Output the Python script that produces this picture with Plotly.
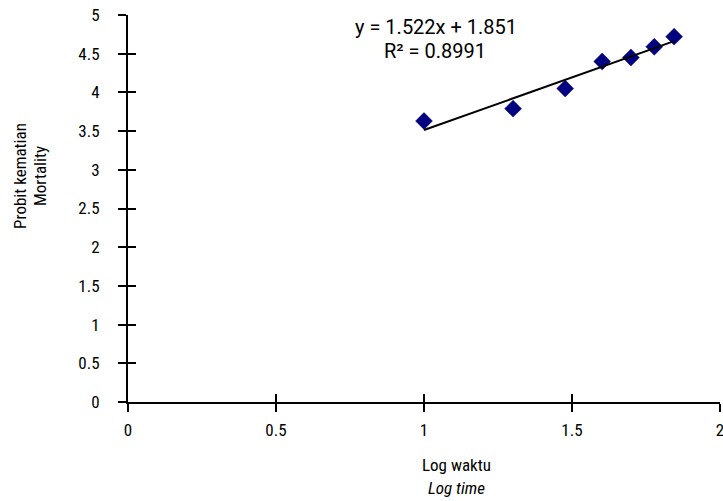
import numpy as np
import plotly.graph_objects as go

# Data
log_time = [1.0, 1.301, 1.477, 1.602, 1.699, 1.778, 1.845]
probit = [3.63, 3.79, 4.05, 4.40, 4.45, 4.59, 4.72]
x_ticks = [0, 0.5, 1, 1.5, 2]
x_tick_labels = ["0", "0.5", "1", "1.5", "2"]
y_ticks = [0, 0.5, 1, 1.5, 2, 2.5, 3, 3.5, 4, 4.5, 5]
y_tick_labels = ["0", "0.5", "1", "1.5", "2", "2.5", "3", "3.5", "4", "4.5", "5"]
equation_text = "y = 1.522x + 1.851"
r2_text = "R² = 0.8991"
x_title = ["Log waktu", "<i>Log time</i>"]
y_title = ["Probit kematian", "Mortality"]

NARROW = "Roboto Condensed, Liberation Sans Narrow, sans-serif"
REG = "Roboto, Liberation Sans, sans-serif"

slope, intercept = np.polyfit(log_time, probit, 1)
fit_x = [min(log_time), max(log_time)]
fit_y = [slope * v + intercept for v in fit_x]

fig = go.Figure()
fig.add_trace(go.Scatter(
    x=log_time, y=probit, mode="markers",
    marker=dict(symbol="diamond", size=13, color="#000080",
                line=dict(color="#000060", width=0.5)),
    showlegend=False, hoverinfo="skip"))
fig.add_trace(go.Scatter(
    x=fit_x, y=fit_y, mode="lines",
    line=dict(color="black", width=2),
    showlegend=False, hoverinfo="skip"))
# invisible trace to activate overlay axes (inner half of crossing ticks)
fig.add_trace(go.Scatter(x=[None], y=[None], xaxis="x2", yaxis="y2",
                         showlegend=False, hoverinfo="skip"))

axis_common = dict(showgrid=False, zeroline=False)
fig.update_layout(
    width=723, height=501,
    margin=dict(l=128, r=3, t=15, b=99),
    paper_bgcolor="white", plot_bgcolor="white",
    xaxis=dict(range=[0, 2], tickvals=x_ticks, ticktext=x_tick_labels,
               showline=True, linecolor="black", linewidth=2,
               ticks="outside", ticklen=8, tickwidth=2, tickcolor="black",
               tickfont=dict(family=NARROW, size=17, color="black"),
               ticklabelstandoff=4, ticklabeloverflow="allow",
               automargin=False, **axis_common),
    yaxis=dict(range=[0, 5], tickvals=y_ticks, ticktext=y_tick_labels,
               showline=True, linecolor="black", linewidth=2,
               ticks="outside", ticklen=8, tickwidth=2, tickcolor="black",
               tickfont=dict(family=NARROW, size=17, color="black"),
               ticklabelstandoff=15, ticklabeloverflow="allow",
               automargin=False, **axis_common),
    xaxis2=dict(range=[0, 2], tickvals=x_ticks, overlaying="x", anchor="y",
                side="bottom", showticklabels=False, showline=False,
                ticks="inside", ticklen=8, tickwidth=2, tickcolor="black",
                automargin=False, **axis_common),
    yaxis2=dict(range=[0, 5], tickvals=y_ticks, overlaying="y", anchor="x",
                side="left", showticklabels=False, showline=False,
                ticks="inside", ticklen=8, tickwidth=2, tickcolor="black",
                automargin=False, **axis_common),
)

annotations = [
    dict(text=equation_text, x=1.04, y=4.845, xref="x", yref="y",
         font=dict(family=REG, size=20, color="black")),
    dict(text=r2_text, x=1.037, y=4.535, xref="x", yref="y",
         font=dict(family=REG, size=20, color="black")),
    dict(text=x_title[0], x=1.111, y=-0.163, xref="x", yref="paper",
         font=dict(family=NARROW, size=17, color="black")),
    dict(text=x_title[1], x=1.111, y=-0.222, xref="x", yref="paper",
         font=dict(family=NARROW, size=17, color="black")),
    dict(text=y_title[0], x=-0.1824, y=0.584, xref="paper", yref="paper",
         textangle=-90, font=dict(family=NARROW, size=17, color="black")),
    dict(text=y_title[1], x=-0.1486, y=0.584, xref="paper", yref="paper",
         textangle=-90, font=dict(family=NARROW, size=17, color="black")),
]
for a in annotations:
    a.update(showarrow=False, xanchor="center", yanchor="middle")
fig.update_layout(annotations=annotations)

fig.write_html("out.html", config={"displayModeBar": False},
               post_script="document.body.style.margin='0';")
